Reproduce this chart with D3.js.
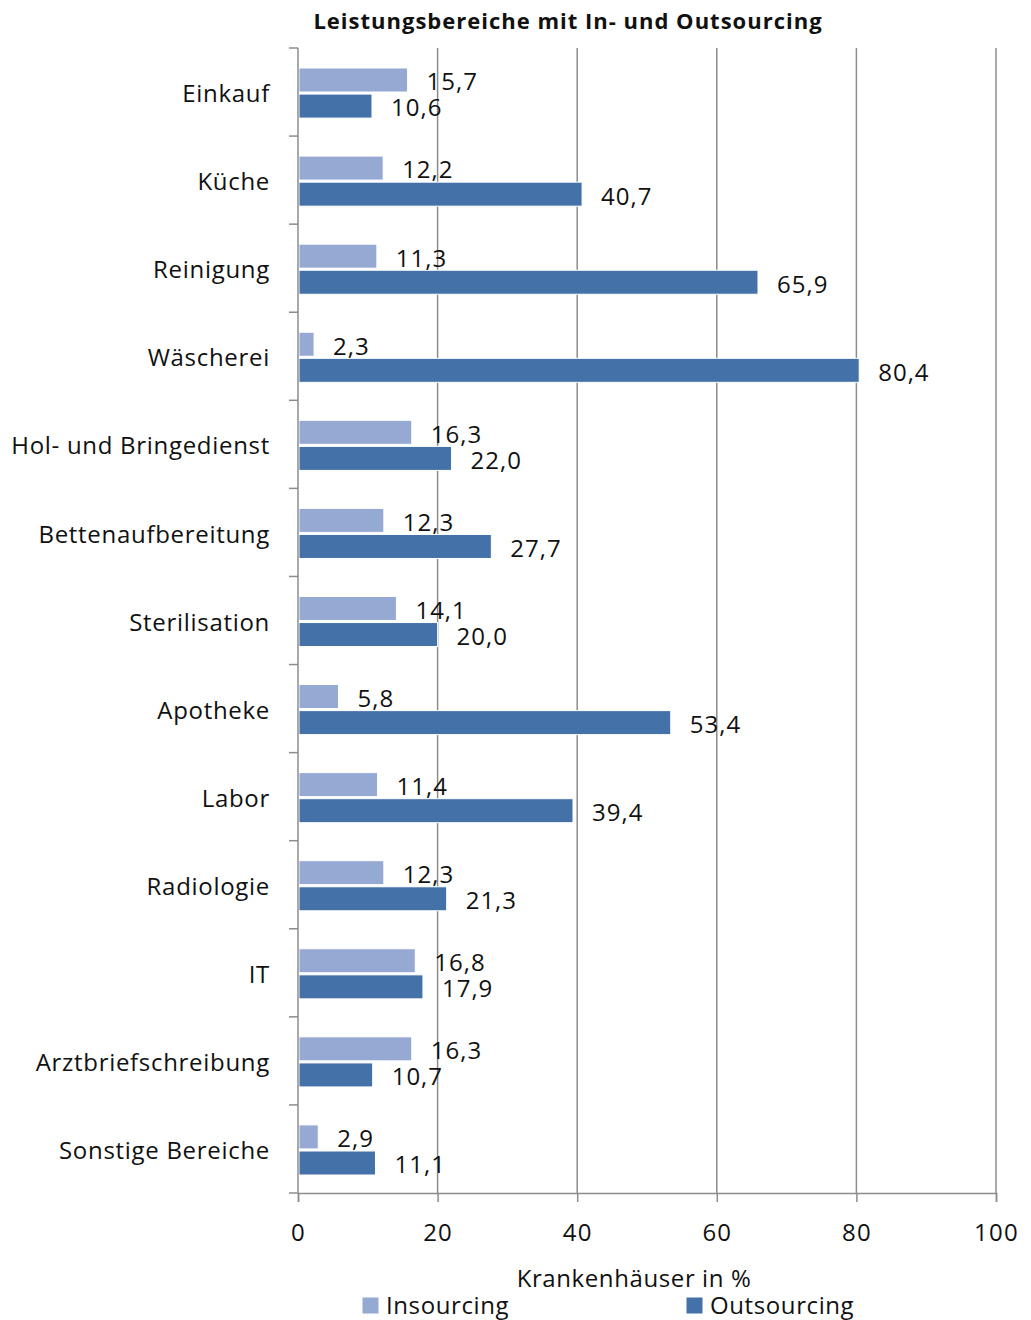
<!DOCTYPE html>
<html>
<head>
<meta charset="utf-8">
<script src="https://cdn.jsdelivr.net/npm/d3@7"></script>
<style>
  body { margin: 0; background: #fff; }
  svg text { font-family: "Open Sans", "Noto Sans", sans-serif; fill: #111; }
</style>
</head>
<body>
<svg id="chart" width="1031" height="1320"></svg>
<script>
// data
var categories = ["Einkauf", "Küche", "Reinigung", "Wäscherei", "Hol- und Bringedienst",
  "Bettenaufbereitung", "Sterilisation", "Apotheke", "Labor", "Radiologie", "IT",
  "Arztbriefschreibung", "Sonstige Bereiche"];
var insourcing  = [15.7, 12.2, 11.3, 2.3, 16.3, 12.3, 14.1, 5.8, 11.4, 12.3, 16.8, 16.3, 2.9];
var outsourcing = [10.6, 40.7, 65.9, 80.4, 22.0, 27.7, 20.0, 53.4, 39.4, 21.3, 17.9, 10.7, 11.1];
var seriesNames = ["Insourcing", "Outsourcing"];
var xTicks = [0, 20, 40, 60, 80, 100];

var colors = ["#95a9d3", "#4471a8"];

var svg = d3.select("#chart");
var L = 298, R = 996, T = 48, B = 1193;

var x = d3.scaleLinear().domain([0, 100]).range([L, R]);
var y = d3.scaleBand().domain(categories).range([T, B]).paddingInner(0).paddingOuter(0);
var sub = d3.scaleBand().domain(seriesNames).range([1, y.bandwidth() + 1]).paddingOuter(0.728).paddingInner(0.08);

// grid
svg.append("g").selectAll("line").data(xTicks.slice(1)).enter().append("line")
  .attr("x1", function(d){ return x(d); }).attr("x2", function(d){ return x(d); })
  .attr("y1", T).attr("y2", B)
  .attr("stroke", "#8c8c8c").attr("stroke-width", 1.5);

// bars
var rows = categories.map(function(c, i){ return {cat: c, vals: [insourcing[i], outsourcing[i]]}; });
var g = svg.append("g").selectAll("g").data(rows).enter().append("g")
  .attr("transform", function(d){ return "translate(0," + y(d.cat) + ")"; });

g.selectAll("rect").data(function(d){ return d.vals.map(function(v, k){ return {v: v, s: seriesNames[k], k: k}; }); })
  .enter().append("rect")
  .attr("x", x(0) + 1)
  .attr("y", function(d){ return sub(d.s); })
  .attr("width", function(d){ return x(d.v) - x(0) - 1; })
  .attr("height", sub.bandwidth())
  .attr("fill", function(d){ return colors[d.k]; })
  .attr("stroke", "#ffffff").attr("stroke-width", 1);

g.selectAll("text").data(function(d){ return d.vals.map(function(v, k){ return {v: v, s: seriesNames[k]}; }); })
  .enter().append("text")
  .attr("x", function(d){ return x(d.v) + 19; })
  .attr("y", function(d){ return sub(d.s) + sub.bandwidth() / 2 + 2; })
  .attr("dy", "0.35em")
  .attr("font-size", 24).attr("letter-spacing", 1)
  .text(function(d){ return d3.format(".1f")(d.v).replace(".", ","); });

// y axis
var yAxis = d3.axisLeft(y).tickSize(0).tickPadding(28);
var ya = svg.append("g").attr("transform", "translate(" + L + ",0)").call(yAxis);
ya.select(".domain").remove();
ya.selectAll("text").attr("font-size", 24).attr("letter-spacing", 0.7).attr("fill", "#111").attr("dy", "0.42em");
var bounds = categories.map(function(c){ return y(c); }).concat([B]);
svg.append("g").selectAll("line").data(bounds).enter().append("line")
  .attr("x1", L - 9).attr("x2", L).attr("y1", function(d){ return d; }).attr("y2", function(d){ return d; })
  .attr("stroke", "#8c8c8c").attr("stroke-width", 1.5);
svg.append("line").attr("x1", L).attr("x2", L).attr("y1", T).attr("y2", B)
  .attr("stroke", "#8c8c8c").attr("stroke-width", 1.5);

// x axis
var xAxis = d3.axisBottom(x).tickValues(xTicks).tickSize(9).tickPadding(22).tickFormat(d3.format("d"));
var xa = svg.append("g").attr("transform", "translate(0," + B + ")").call(xAxis);
xa.select(".domain").attr("stroke", "#8c8c8c").attr("stroke-width", 1.5);
xa.selectAll(".tick line").attr("stroke", "#8c8c8c").attr("stroke-width", 1.5);
xa.selectAll("text").attr("font-size", 24).attr("letter-spacing", 1.2).attr("fill", "#111");

// titles
svg.append("text").attr("x", 568).attr("y", 29).attr("text-anchor", "middle")
  .attr("font-size", 22).attr("font-weight", "bold").attr("letter-spacing", 1)
  .text("Leistungsbereiche mit In- und Outsourcing");
svg.append("text").attr("x", 634).attr("y", 1287).attr("text-anchor", "middle")
  .attr("font-size", 24).attr("letter-spacing", 0.6).text("Krankenhäuser in %");

// legend
var legX = [362, 686];
var leg = svg.append("g").selectAll("g").data(seriesNames).enter().append("g")
  .attr("transform", function(d, i){ return "translate(" + legX[i] + ",1297)"; });
leg.append("rect").attr("width", 17).attr("height", 17).attr("fill", function(d, i){ return colors[i]; })
  .attr("stroke", "#fff").attr("stroke-width", 1);
leg.append("text").attr("x", 24).attr("y", 9).attr("dy", "0.35em").attr("font-size", 24).attr("letter-spacing", 0.6)
  .text(function(d){ return d; });
</script>
</body>
</html>
